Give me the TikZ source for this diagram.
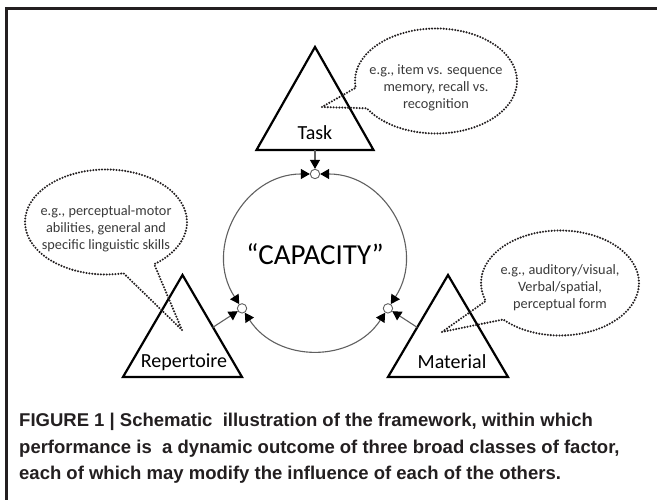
\documentclass[tikz,border=0pt]{standalone}
\usepackage{fontspec}
\setmainfont{Carlito}
\newfontfamily\capfont{Liberation Sans}
\usepackage{tikz}
\usetikzlibrary{arrows.meta,shapes.callouts}
\definecolor{ink}{HTML}{231F20}
\definecolor{rim}{HTML}{606060}
\definecolor{note}{HTML}{3A3A3A}

\begin{document}
\begin{tikzpicture}[x=1pt,y=1pt,
  tri/.style={line width=2.2pt},
  lbl/.style={font=\fontsize{20}{24}\selectfont},
  junc/.style={circle,draw=rim,fill=white,line width=0.9pt,minimum size=9.4pt,inner sep=0pt},
  feed/.style={draw=rim,line width=1.1pt,-{Triangle[length=9pt,width=10pt,color=black]}},
  ring/.style={draw=rim,line width=1.1pt,{Triangle[length=9pt,width=10pt,color=black]}-{Triangle[length=9pt,width=10pt,color=black]}},
  bubble/.style={ellipse callout,draw=ink,line width=2.3pt,dash pattern=on 0pt off 2.9pt,line cap=round,
    inner xsep=-30pt,inner ysep=0pt,callout pointer arc=24,text=note,align=center,
    font=\fontsize{14.3}{17}\selectfont}]
\useasboundingbox (0,0) rectangle (657,500);
\draw[ink,line width=2.6pt] (6.5,0) -- (6.5,491.3) -- (657,491.3);
% the three factors
\draw[tri] (256.5,350) -- (315,453) -- (373.5,350) -- cycle;
\draw[tri] (123,123) -- (182.5,225) -- (242,123) -- cycle;
\draw[tri] (388,123) -- (448,225) -- (508,123) -- cycle;
\node[lbl] (task) at (315,367) {Task};
\node[lbl] (rep) at (184,138) {Repertoire};
\node[lbl] (mat) at (452,138) {Material};
% capacity ring
\coordinate (hub) at (315,239);
\node[font=\fontsize{29}{34}\selectfont] (capacity) at (315,246) {“CAPACITY”};
\path (hub) ++(90:87) node[junc] (jtask) {};
\path (hub) ++(213:87) node[junc] (jrep) {};
\path (hub) ++(-33:87) node[junc] (jmat) {};
\draw[ring] (jtask) to[out=180,in=123,looseness=1.15] (jrep);
\draw[ring] (jrep) to[out=303,in=237,looseness=1.1] (jmat);
\draw[ring] (jmat) to[out=57,in=0,looseness=1.15] (jtask);
\coordinate (taskfoot) at (315,350);
\path (jrep) ++(213:35) coordinate (repfoot);
\path (jmat) ++(-33:35) coordinate (matfoot);
\draw[feed] (taskfoot) -- (jtask);
\draw[feed] (repfoot) -- (jrep);
\draw[feed] (matfoot) -- (jmat);
% examples
\node[bubble,minimum width=162pt,minimum height=105pt,callout absolute pointer={(322,393)}] (tasknote) at (436,419)
  {\rule{0pt}{24pt}e.g., item vs. sequence\\memory, recall vs.\\recognition};
\node[bubble,minimum width=162pt,minimum height=105pt,callout absolute pointer={(182,170)}] (repnote) at (106,278)
  {\rule{0pt}{24pt}e.g., perceptual-motor\\abilities, general and\\specific linguistic skills};
\node[bubble,minimum width=158pt,minimum height=105pt,callout absolute pointer={(442,168)}] (matnote) at (560,217)
  {\rule{0pt}{20pt}e.g., auditory/visual,\\Verbal/spatial,\\perceptual form};
% caption
\node[anchor=north west,align=left,inner sep=0pt,text=ink,font=\capfont\bfseries\fontsize{18.5}{26.5}\selectfont] (caption) at (19,87)
  {FIGURE 1 | Schematic~ illustration of the framework, within which\\
   performance is~ a dynamic outcome of three broad classes of factor,\\
   each of which may modify the influence of each of the others.};
\end{tikzpicture}
\end{document}
